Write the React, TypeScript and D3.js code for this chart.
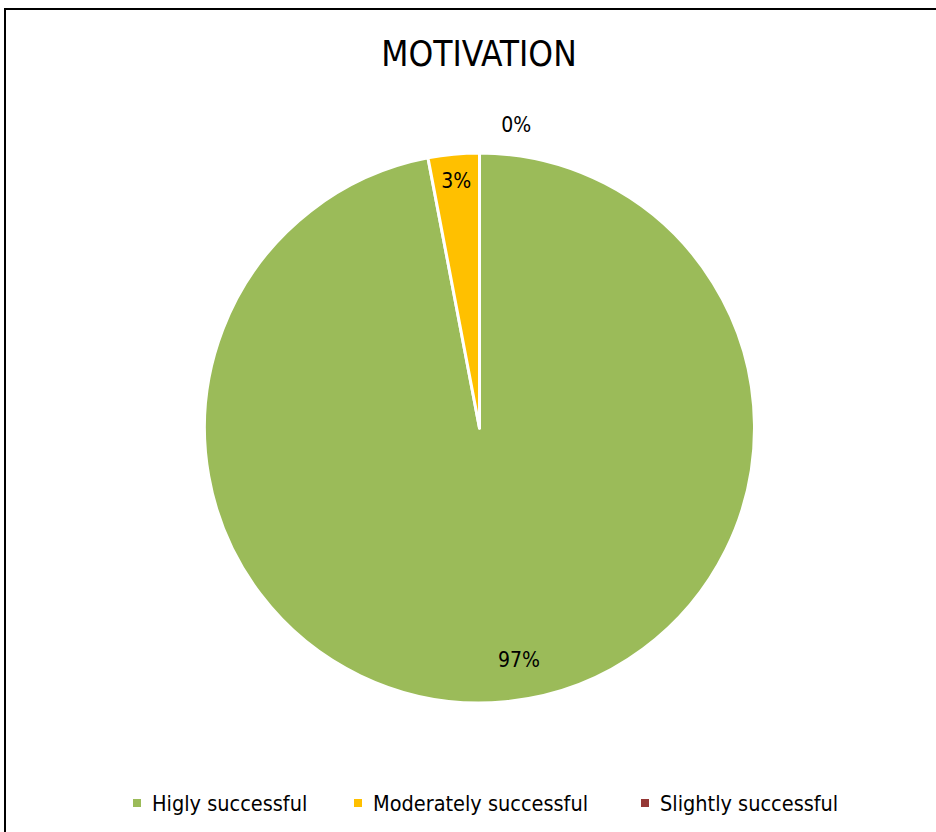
import React from "react";
import * as d3 from "d3";

const categories = ["Higly successful", "Moderately successful", "Slightly successful"];
const values = [97, 3, 0];
const colors = ["#9BBB59", "#FFC000", "#953735"];
const title = "MOTIVATION";

const W = 936;
const H = 832;
const cx = 479.5;
const cy = 428;
const R = 275;
const FONT = "'Liberation Sans Narrow', 'DejaVu Sans Condensed', 'Open Sans', sans-serif";

// label placement style: radius and angular nudge per slice
const labelRadius = [235, 248, 306];
const labelNudge = [-0.075, 0, 0.12];

export default function App() {
  const pie = d3.pie<number>().sort(null).value((d) => d)(values);
  const arc = d3.arc<d3.PieArcDatum<number>>().innerRadius(0).outerRadius(R);
  const total = d3.sum(values);
  const legendX = [137, 358, 645];

  return (
    <svg
      width={W}
      height={H}
      style={{ position: "absolute", left: 0, top: 0, background: "#fff" }}
    >
      <rect x={0} y={0} width={W} height={H} fill="#fff" />
      <rect x={5} y={9} width={W + 10} height={H + 10} fill="none" stroke="#000" strokeWidth={2} />
      <text x={479} y={66} textAnchor="middle" fontFamily={FONT} fontSize={35} fill="#000">
        {title}
      </text>
      <g transform={`translate(${cx},${cy})`}>
        {pie.map((p, i) => (
          <path key={i} d={arc(p) || ""} fill={colors[i]} stroke="#fff" strokeWidth={3} strokeLinejoin="round" />
        ))}
        {pie.map((p, i) => {
          const a = (p.startAngle + p.endAngle) / 2 + labelNudge[i];
          const r = labelRadius[i];
          const x = Math.sin(a) * r;
          const y = -Math.cos(a) * r;
          return (
            <text key={i} x={x} y={y} dy="0.35em" textAnchor="middle" fontFamily={FONT} fontSize={21} fill="#000">
              {d3.format(".0%")(p.value / total)}
            </text>
          );
        })}
      </g>
      {categories.map((c, i) => (
        <g key={c}>
          <rect x={legendX[i] - 4} y={799} width={8} height={8} fill={colors[i]} />
          <text x={legendX[i] + 15} y={811} fontFamily={FONT} fontSize={21.5} fill="#000">
            {c}
          </text>
        </g>
      ))}
    </svg>
  );
}
